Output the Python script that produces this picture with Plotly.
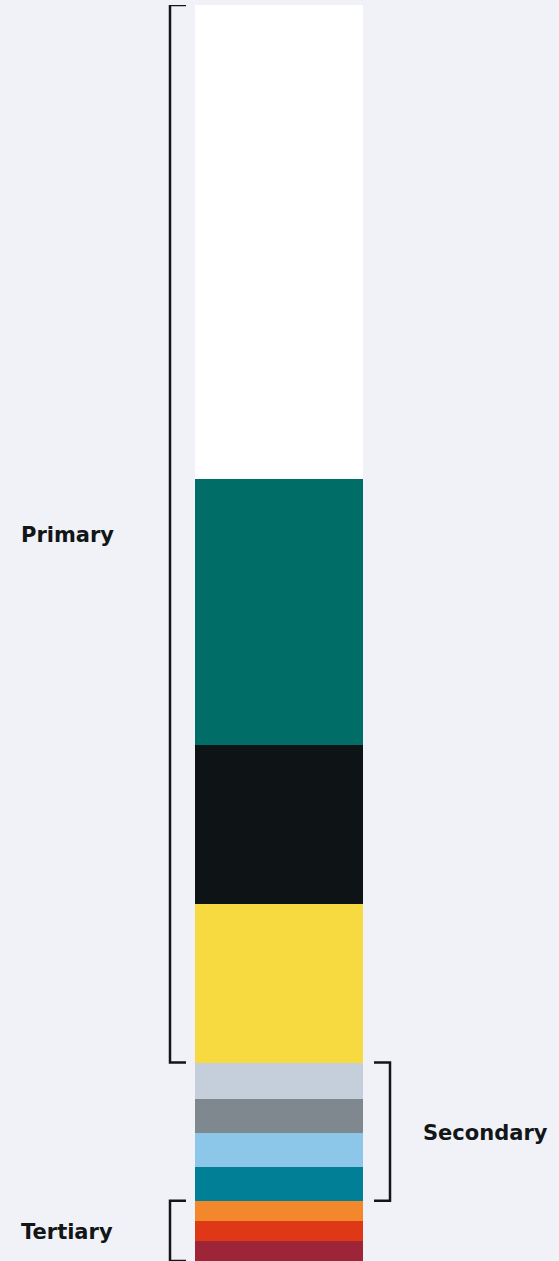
import plotly.graph_objects as go

# palette shares (percent of the bar), top to bottom
names = ["White", "Teal", "Black", "Yellow", "Light grey", "Grey",
         "Light blue", "Ocean", "Orange", "Red", "Maroon"]
shares = [37.7, 21.2, 12.7, 12.6, 2.9, 2.7, 2.7, 2.7, 1.6, 1.6, 1.6]
colors = ["#ffffff", "#006e66", "#0e1415", "#f6da40", "#c5cfdb", "#7e888e",
          "#8cc6e9", "#007f96", "#f2882b", "#de3817", "#9e2437"]
groups = ["Primary", "Secondary", "Tertiary"]
group_sizes = [4, 4, 3]

W, H = 559, 1261
BG = "#f0f2f7"
INK = "#121617"

fig = go.Figure()
for n, v, c in zip(names, shares, colors):
    fig.add_trace(go.Bar(x=[0], y=[v], name=n, marker_color=c,
                         marker_line_width=0, width=1, showlegend=False))

total = sum(shares)

# bracket extents from cumulative shares
bounds = []
start = 0
for g in group_sizes:
    end = start + g
    bounds.append((sum(shares[:start]), sum(shares[:end])))
    start = end

def px(x):
    return x / W

shapes = []
annotations = []
# left brackets: Primary, Tertiary ; right bracket: Secondary
sides = ["left", "right", "left"]
for (y0, y1), side, label in zip(bounds, sides, groups):
    if side == "left":
        xv, xt = px(170), px(186)
    else:
        xv, xt = px(390), px(374)
    path = (f"M {xt} {y0} L {xv} {y0} L {xv} {y1} L {xt} {y1}")
    shapes.append(dict(type="path", path=path, xref="paper", yref="y",
                       line=dict(color=INK, width=2.5)))
    annotations.append(dict(
        x=px(19) if side == "left" else px(421), y=(y0 + y1) / 2,
        xref="paper", yref="y", text=label, showarrow=False,
        xanchor="left", yanchor="middle", yshift=-1,
        font=dict(family="DejaVu Sans", size=21, color=INK, weight=700)))

# map the bar onto pixels 195..363
unit = 363 - 195
x0 = -0.5 - 195 / unit
x1 = x0 + W / unit

fig.update_layout(
    width=W, height=H, barmode="stack",
    paper_bgcolor=BG, plot_bgcolor=BG,
    margin=dict(l=0, r=0, t=5, b=0),
    xaxis=dict(range=[x0, x1], visible=False, fixedrange=True),
    yaxis=dict(range=[total, 0], visible=False, fixedrange=True),
    shapes=shapes, annotations=annotations,
    bargap=0,
)

fig.write_html("out.html", config={"displayModeBar": False},
               post_script="document.body.style.margin='0';")
